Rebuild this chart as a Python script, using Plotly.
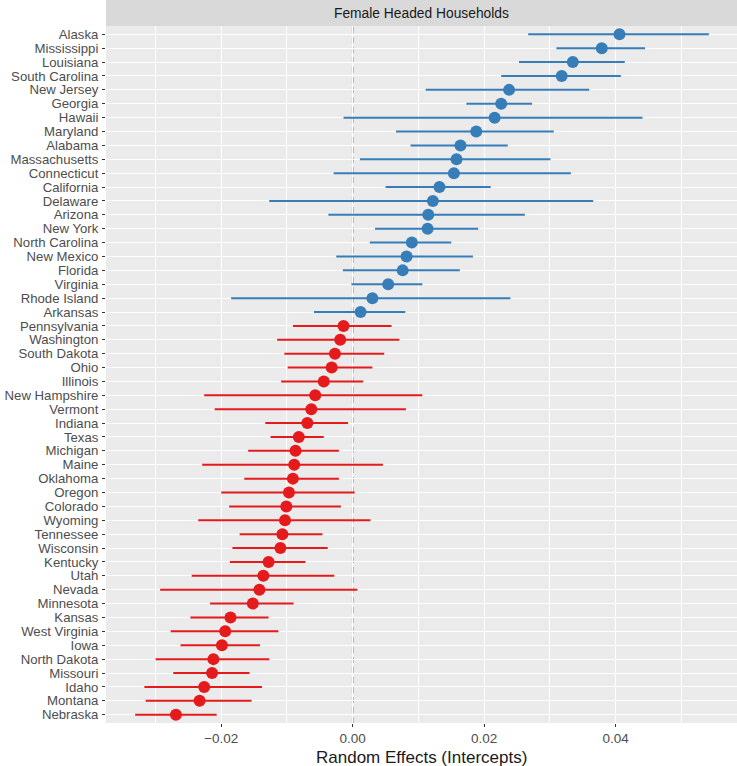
import plotly.graph_objects as go

states = ["Alaska", "Mississippi", "Louisiana", "South Carolina", "New Jersey", "Georgia", "Hawaii",
          "Maryland", "Alabama", "Massachusetts", "Connecticut", "California", "Delaware", "Arizona",
          "New York", "North Carolina", "New Mexico", "Florida", "Virginia", "Rhode Island", "Arkansas",
          "Pennsylvania", "Washington", "South Dakota", "Ohio", "Illinois", "New Hampshire", "Vermont",
          "Indiana", "Texas", "Michigan", "Maine", "Oklahoma", "Oregon", "Colorado", "Wyoming",
          "Tennessee", "Wisconsin", "Kentucky", "Utah", "Nevada", "Minnesota", "Kansas", "West Virginia",
          "Iowa", "North Dakota", "Missouri", "Idaho", "Montana", "Nebraska"]

estimate = [0.0406, 0.0379, 0.0335, 0.0318, 0.0238, 0.0226, 0.0216, 0.0188, 0.0164, 0.0158,
            0.0154, 0.0132, 0.0122, 0.0115, 0.0114, 0.0090, 0.0082, 0.0076, 0.0054, 0.0030,
            0.0012, -0.0014, -0.0019, -0.0027, -0.0032, -0.0044, -0.0057, -0.0063, -0.0069, -0.0082,
            -0.0087, -0.0089, -0.0091, -0.0097, -0.0101, -0.0103, -0.0107, -0.0110, -0.0128, -0.0136,
            -0.0142, -0.0152, -0.0186, -0.0194, -0.0199, -0.0212, -0.0214, -0.0226, -0.0233, -0.0269]

lower = [0.0267, 0.0310, 0.0253, 0.0226, 0.0111, 0.0173, -0.0014, 0.0066, 0.0088, 0.0011,
         -0.0029, 0.0050, -0.0127, -0.0037, 0.0034, 0.0026, -0.0025, -0.0015, -0.0002, -0.0185,
         -0.0059, -0.0091, -0.0115, -0.0104, -0.0099, -0.0109, -0.0226, -0.0210, -0.0133, -0.0125,
         -0.0159, -0.0229, -0.0165, -0.0200, -0.0188, -0.0235, -0.0172, -0.0183, -0.0187, -0.0245,
         -0.0293, -0.0217, -0.0247, -0.0277, -0.0262, -0.0300, -0.0273, -0.0317, -0.0315, -0.0331]

upper = [0.0542, 0.0445, 0.0414, 0.0408, 0.0360, 0.0273, 0.0441, 0.0306, 0.0236, 0.0301,
         0.0332, 0.0210, 0.0366, 0.0262, 0.0191, 0.0150, 0.0183, 0.0163, 0.0106, 0.0240,
         0.0080, 0.0059, 0.0071, 0.0048, 0.0030, 0.0016, 0.0106, 0.0081, -0.0007, -0.0044,
         -0.0021, 0.0046, -0.0021, 0.0003, -0.0018, 0.0027, -0.0046, -0.0038, -0.0072, -0.0028,
         0.0007, -0.0090, -0.0128, -0.0113, -0.0141, -0.0127, -0.0157, -0.0138, -0.0154, -0.0207]

x_ticks = [-0.02, 0.0, 0.02, 0.04]
x_tick_labels = ["\u22120.02", "0.00", "0.02", "0.04"]

BLUE = "#377EB8"
RED = "#E41A1C"

fig = go.Figure()
for positive, color in [(True, BLUE), (False, RED)]:
    idx = [i for i, v in enumerate(estimate) if (v > 0) == positive]
    fig.add_trace(go.Scatter(
        x=[estimate[i] for i in idx],
        y=[states[i] for i in idx],
        mode="markers",
        marker=dict(color=color, size=12, line=dict(width=0)),
        error_x=dict(type="data", symmetric=False,
                     array=[upper[i] - estimate[i] for i in idx],
                     arrayminus=[estimate[i] - lower[i] for i in idx],
                     color=color, thickness=2, width=0),
        showlegend=False,
        hoverinfo="x+y",
    ))

W, H = 737, 766
LEFT, TOP, BOTTOM = 106, 26, 43
panel_h = H - TOP - BOTTOM
strip_h = 26

fig.add_shape(type="line", xref="x", yref="paper", x0=0, x1=0, y0=0, y1=1,
              line=dict(color="#8A8A8A", width=1.6, dash="6px,4px"), layer="between")
fig.add_shape(type="rect", xref="paper", yref="paper", x0=0, x1=1,
              y0=1, y1=1 + strip_h / panel_h, fillcolor="#D9D9D9", line=dict(width=0),
              layer="above")
fig.add_annotation(xref="paper", yref="paper", x=0.5, y=1 + strip_h / 2 / panel_h,
                   text="Female Headed Households", showarrow=False,
                   font=dict(size=13.8, color="#1A1A1A"), xanchor="center", yanchor="middle")
fig.add_annotation(xref="paper", yref="paper", x=0.5, y=-34 / panel_h,
                   text="Random Effects (Intercepts)", showarrow=False,
                   font=dict(size=17, color="#1A1A1A"), xanchor="center", yanchor="middle")

fig.update_layout(
    width=W, height=H,
    margin=dict(l=LEFT, r=0, t=TOP, b=BOTTOM),
    paper_bgcolor="white",
    plot_bgcolor="#EBEBEB",
    font=dict(family="Liberation Sans, Arial, sans-serif", color="#4D4D4D"),
    xaxis=dict(
        range=[-0.03754, 0.05848],
        tickmode="array", tickvals=x_ticks, ticktext=x_tick_labels,
        showgrid=True, gridcolor="white", gridwidth=1.4,
        zeroline=False, showline=False,
        ticks="outside", ticklen=3, tickwidth=1, tickcolor="#333333",
        tickfont=dict(size=13.5, color="#4D4D4D"),
        minor=dict(dtick=0.01, tick0=0.0, showgrid=True, gridcolor="white", gridwidth=0.7, ticks=""),
        automargin=False,
    ),
    yaxis=dict(
        categoryorder="array", categoryarray=states,
        tickmode="array", tickvals=states, ticktext=states,
        range=[len(states) - 0.4, -0.6],
        showgrid=True, gridcolor="white", gridwidth=1.4,
        zeroline=False, showline=False,
        ticks="outside", ticklen=3, tickwidth=1.2, tickcolor="#333333",
        tickfont=dict(size=13.2, color="#4D4D4D"),
        ticklabelstandoff=1,
        automargin=False,
    ),
)

# remove the browser's default 8px page margin so the figure fills the window exactly
fig.write_html("out.html", config={"displayModeBar": False},
               post_script="document.body.style.margin='0px';")
